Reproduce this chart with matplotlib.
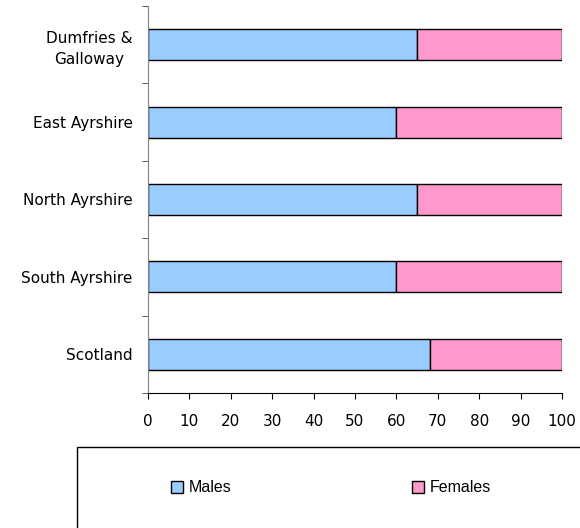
import matplotlib
matplotlib.use("Agg")
import matplotlib.pyplot as plt
import numpy as np

categories = ["Scotland", "South Ayrshire", "North Ayrshire", "East Ayrshire", "Dumfries &\nGalloway"]
males = [68, 60, 65, 60, 65]
females = [32, 40, 35, 40, 35]
xticks = [0, 10, 20, 30, 40, 50, 60, 70, 80, 90, 100]

fig = plt.figure(figsize=(5.8, 5.28), dpi=100)
ax = fig.add_axes([148/580, 1-393/528, (562-148)/580, (393-6)/528])

y = np.arange(len(categories))
b1 = ax.barh(y, males, height=0.4, color="#99CCFF", edgecolor="black", linewidth=1.0, label="Males")
b2 = ax.barh(y, females, left=males, height=0.4, color="#FF99CC", edgecolor="black", linewidth=1.0, label="Females")

ax.set_xlim(0, 100)
ax.set_ylim(-0.5, len(categories)-0.5)
ax.set_xticks(xticks)
ax.set_xticklabels([str(v) for v in xticks], fontsize=11)
ax.set_yticks(y)
ax.set_yticklabels(categories, fontsize=11)
for lab in ax.get_yticklabels():
    lab.set_multialignment("center")
    lab.set_linespacing(1.45)
ax.set_yticks(np.arange(-0.5, len(categories), 1.0), minor=True)
ax.tick_params(axis="y", which="major", length=0, pad=11)
ax.tick_params(axis="y", which="minor", length=4, color="#404040", direction="out")
ax.tick_params(axis="x", which="major", length=4, direction="out", pad=11)

for s in ["top", "right"]:
    ax.spines[s].set_visible(False)
ax.spines["left"].set_color("#808080")
ax.spines["bottom"].set_color("black")

# legend box
rect = plt.Rectangle((77/580, -0.05), 1.0, 0.05 + (1-447/528), transform=fig.transFigure,
                     facecolor="white", edgecolor="black", linewidth=1.0, clip_on=False)
fig.patches.append(rect)

fig.legend(handles=[b1, b2], labels=["Males", "Females"], ncol=2, frameon=False,
           loc="center left", bbox_to_anchor=(163/580, 1-488/528), borderpad=0,
           handlelength=0.78, handleheight=0.75, handletextpad=0.33, columnspacing=11.3,
           prop={"family": "Liberation Sans", "size": 11.5})

fig.savefig("out.png", dpi=100)
